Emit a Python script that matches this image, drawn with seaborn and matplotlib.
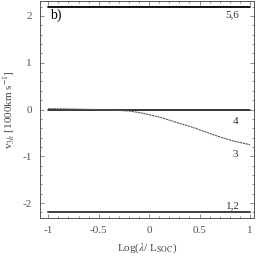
import numpy as np
import pandas as pd
import matplotlib
matplotlib.use("Agg")
import matplotlib.pyplot as plt
import seaborn as sns
from matplotlib.ticker import MultipleLocator

sns.set_style("ticks")
plt.rcParams['font.family'] = ['Liberation Serif', 'DejaVu Serif']
plt.rcParams['mathtext.fontset'] = 'stix'

# Dados
log_x = [-1.0, -0.5, -0.38, -0.2, -0.08, 0.0, 0.12, 0.25, 0.42, 0.55, 0.68, 0.85, 1.0]
v3 = [0.02, 0.0, -0.01, -0.03, -0.07, -0.11, -0.17, -0.26, -0.37, -0.47, -0.57, -0.68, -0.75]
x_flat = [-1.0, 1.0]
v56 = [2.2, 2.2]
v4 = [0.0, 0.0]
v12 = [-2.2, -2.2]

fig = plt.figure(figsize=(2.56, 2.56), dpi=100)
ax = fig.add_axes([0.157, 0.148, 0.835, 0.848])

sns.lineplot(x=x_flat, y=v56, ax=ax, color='black', lw=1.3)
sns.lineplot(x=x_flat, y=v4, ax=ax, color='black', lw=1.1)
sns.lineplot(x=x_flat, y=v12, ax=ax, color='#404040', lw=1.4)
sns.lineplot(x=log_x, y=v3, ax=ax, color='#555555', lw=0.8, linestyle=(0, (2, 0.6)))

ax.set_xlim(-1.08, 1.04)
ax.set_ylim(-2.32, 2.32)
ax.xaxis.set_major_locator(MultipleLocator(0.5))
ax.xaxis.set_minor_locator(MultipleLocator(0.1))
ax.yaxis.set_major_locator(MultipleLocator(1))
ax.yaxis.set_minor_locator(MultipleLocator(0.2))
ax.set_xticks([-1, -0.5, 0, 0.5, 1])
ax.set_xticklabels(['-1', '-0.5', '0', '0.5', '1'])
ax.set_yticks([-2, -1, 0, 1, 2])
ax.set_yticklabels(['-2', '-1', '0', '1', '2'])
ax.tick_params(which='both', direction='in', top=True, right=True,
               labelsize=8, labelcolor='#555555', color='#777777', width=0.6)
ax.tick_params(which='major', length=3)
ax.tick_params(which='minor', length=1.5)
ax.tick_params(axis='x', pad=6)
ax.tick_params(axis='y', pad=6)
for s in ax.spines.values():
    s.set_linewidth(0.7)
    s.set_color('#555555')

ax.text(-0.98, 1.95, 'b)', fontsize=10, color='black')
ax.text(0.76, 1.97, '5,6', fontsize=8, color='#333333')
ax.text(0.83, -0.3, '4', fontsize=8, color='#333333')
ax.text(0.83, -1.02, '3', fontsize=8, color='#333333')
ax.text(0.76, -2.12, '1,2', fontsize=8, color='#333333')

ax.set_xlabel(r'Log($\lambda$/ L$_{\rm SOC}$)', fontsize=8, color='#444444', labelpad=4)
ax.set_ylabel(r'v$_{3h}$ [1000km s$^{-1}$]', fontsize=8, color='#444444', labelpad=4)

fig.savefig('out.png', dpi=100)
